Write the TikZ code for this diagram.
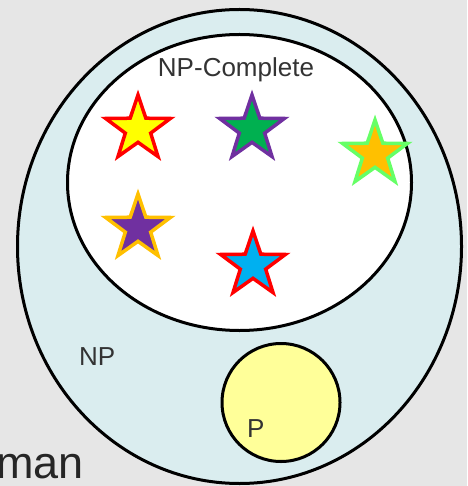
\documentclass[tikz,border=0pt]{standalone}
\usepackage{fontspec}
\setmainfont{Liberation Sans}
\usetikzlibrary{shapes.geometric}
\definecolor{bggray}{HTML}{E6E6E6}
\definecolor{npblue}{HTML}{DAEDEF}
\definecolor{pyellow}{HTML}{FFFF99}
\definecolor{txtgray}{HTML}{333333}
\definecolor{sred}{HTML}{FF0000}
\definecolor{syellow}{HTML}{FFFF00}
\definecolor{spurple}{HTML}{7030A0}
\definecolor{sgreen}{HTML}{00B050}
\definecolor{slgreen}{HTML}{66FF66}
\definecolor{sorange}{HTML}{FFC000}
\definecolor{sblue}{HTML}{00B0F0}
\tikzset{
  setline/.style={draw=black, line width=3pt},
  starnode/.style={star, star points=5, star point ratio=2.55, minimum size=68pt, inner sep=0pt, line width=3.5pt},
  lbl/.style={text=txtgray, inner sep=0pt, font=\fontsize{26}{30}\selectfont},
}
\begin{document}
\begin{tikzpicture}[x=1pt, y=-1pt]
\useasboundingbox (0,0) rectangle (467,486);
\clip (0,0) rectangle (467,486);
\fill[bggray] (0,0) rectangle (467,486);
% NP
\node[setline, fill=npblue, ellipse, minimum width=444pt, minimum height=474pt, inner sep=0pt] (np) at (239.5,246.5) {};
% NP-Complete
\node[setline, fill=white, ellipse, minimum width=344pt, minimum height=296pt, inner sep=0pt] (npc) at (239.5,182.5) {};
% P
\node[setline, fill=pyellow, circle, minimum size=118pt, inner sep=0pt] (p) at (281,402.5) {};
% stars
\node[starnode, draw=sred, fill=syellow] (s1) at (138,129) {};
\node[starnode, draw=spurple, fill=sgreen] (s2) at (252,129) {};
\node[starnode, draw=slgreen, fill=sorange] (s3) at (375,154) {};
\node[starnode, draw=sorange, fill=spurple] (s4) at (138,228) {};
\node[starnode, draw=sred, fill=sblue] (s5) at (253,265) {};
% labels
\node[lbl, anchor=base] (tnpc) at (236,77) {NP-Complete};
\node[lbl, anchor=base west] (tnp) at (79,365) {NP};
\node[lbl, anchor=base west] (tp) at (247,437) {P};
\node[inner sep=0pt, anchor=base west, font=\fontsize{45}{50}\selectfont, text=black!85] (tman) at (-4,478) {man};
\end{tikzpicture}
\end{document}
